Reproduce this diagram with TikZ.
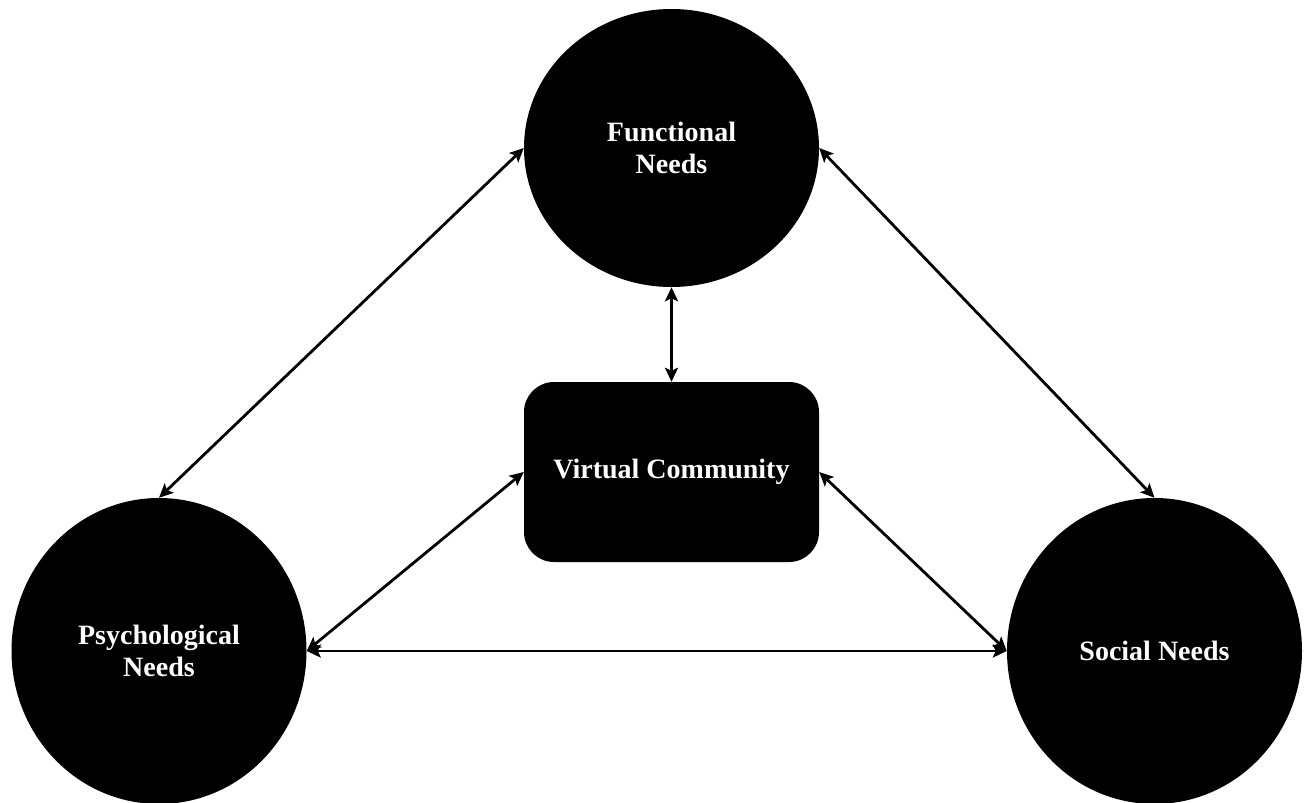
\documentclass[tikz,border=0pt]{standalone}
\usepackage{fontspec}
\setmainfont{Liberation Serif}
\usetikzlibrary{shapes.geometric,arrows.meta}
\begin{document}
\begin{tikzpicture}[x=1pt,y=-1pt,
  label text/.style={text=white,font=\bfseries\fontsize{28}{32}\selectfont,align=center},
  need/.style={ellipse,fill=black,draw=none,inner sep=0pt,minimum width=295pt,label text},
  hub/.style={rectangle,rounded corners=30pt,fill=black,draw=none,inner sep=0pt,
              minimum width=295pt,minimum height=180pt,label text},
  link/.style={line width=2.8pt,{Stealth[length=14pt,width=13pt,inset=3pt]}-{Stealth[length=14pt,width=13pt,inset=3pt]}}]
\useasboundingbox (0,0) rectangle (1309,803);

% the three needs and the community at the centre
\node[need,minimum height=278pt] (func) at (671.5,148) {Functional\\Needs};
\node[need,minimum height=306pt] (psych) at (159,651) {Psychological\\Needs};
\node[need,minimum height=306pt] (social) at (1154.5,651) {Social Needs};
\node[hub] (vc) at (671.5,472) {Virtual Community};

% two-way links
\draw[link] (func.west) -- (psych.north);
\draw[link] (func.east) -- (social.north);
\draw[link] (func.south) -- (vc.north);
\draw[link] (vc.west) -- (psych.east);
\draw[link] (vc.east) -- (social.west);
\draw[link] (psych.east) -- (social.west);
\end{tikzpicture}
\end{document}
